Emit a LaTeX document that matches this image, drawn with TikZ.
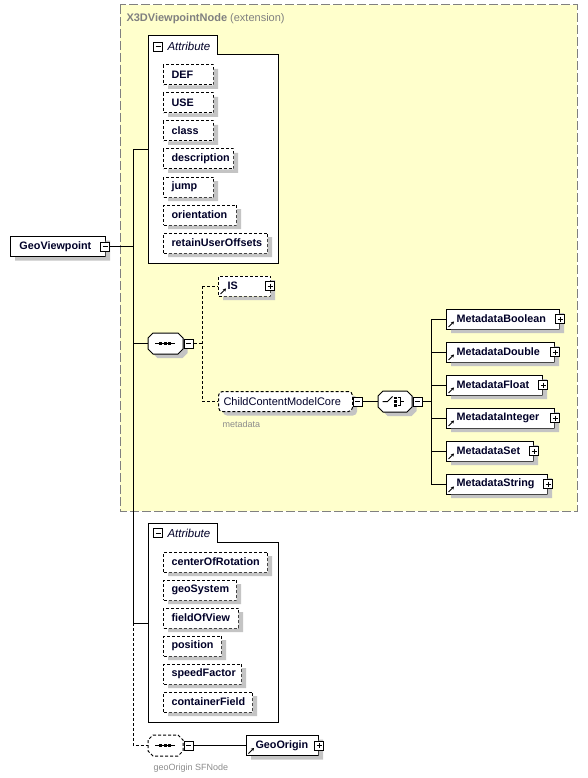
\documentclass[tikz,border=0pt]{standalone}
\usepackage{fontspec}
\setmainfont{Liberation Sans}
\usetikzlibrary{arrows.meta,calc}
\definecolor{extyellow}{RGB}{255,255,204}
\definecolor{bordergray}{RGB}{128,128,128}
\definecolor{labgray}{RGB}{140,140,140}
\definecolor{txt}{RGB}{0,0,40}
\colorlet{shcol}{black!23}
\newcommand{\wbox}[3]{\makebox[#1pt][l]{\hspace{#2pt}#3}}
% L-shaped shadow strip of a box: left x, centre y, width (drawn after the box)
\newcommand{\shbox}[3]{\path[fill=shcol] (#1+#3+0.5,#2-6) -- (#1+#3+5,#2-6) -- (#1+#3+5,#2+14) -- (#1+5,#2+14) -- (#1+5,#2+10.5) -- (#1+#3+0.5,#2+10.5) -- cycle;}
% octagon outline: left x, centre y, width
\newcommand{\octat}[3]{(#1+5,#2-10.5) -- (#1+#3-5,#2-10.5) -- (#1+#3,#2-5.5) -- (#1+#3,#2+5.5) -- (#1+#3-5,#2+10.5) -- (#1+5,#2+10.5) -- (#1,#2+5.5) -- (#1,#2-5.5) -- cycle}
\tikzset{
  cdash/.style={line width=1pt, dash pattern=on 3pt off 2pt},
  bfont/.style={font=\fontsize{10.8}{12}\selectfont\bfseries},
  rfont/.style={font=\fontsize{11}{12}\selectfont},
  attrbox/.style={draw, fill=white, line width=1pt, dash pattern=on 3pt off 2pt, bfont, inner sep=0pt, minimum height=20pt, anchor=west, text=txt},
  gbox/.style={draw, fill=white, line width=1pt, bfont, inner sep=0pt, minimum height=20pt, anchor=west, text=txt},
  elem/.style={gbox, path picture={\draw[solid, line width=0.8pt, -{Stealth[length=3pt,width=3.5pt]}] ([shift={(2pt,2pt)}]path picture bounding box.south west) -- ([shift={(7.5pt,7.5pt)}]path picture bounding box.south west);}},
  pmbox/.style={draw, solid, fill=white, line width=0.8pt, minimum size=9pt, inner sep=0pt},
  minus/.style={pmbox, path picture={\draw[line width=0.8pt] ([xshift=2pt]path picture bounding box.west) -- ([xshift=-2pt]path picture bounding box.east);}},
  plus/.style={pmbox, path picture={\draw[line width=0.8pt] ([xshift=2pt]path picture bounding box.west) -- ([xshift=-2pt]path picture bounding box.east) ([yshift=-2pt]path picture bounding box.north) -- ([yshift=2pt]path picture bounding box.south);}},
  oct/.style={rectangle, minimum width=35pt, minimum height=21pt, inner sep=0pt, anchor=west},
  octline/.style={draw, fill=white, line width=1pt},
  glab/.style={font=\fontsize{9}{10}\selectfont, text=labgray, inner sep=0pt, anchor=west},
  tabtitle/.style={anchor=west, inner sep=0pt, font=\fontsize{11.5}{12}\selectfont\itshape, text=txt},
}
\begin{document}
\begin{tikzpicture}[x=1pt, y=-1pt, line width=1pt]
\useasboundingbox (0,0) rectangle (588,778);
% extension area
\draw[bordergray, dash pattern=on 9pt off 3pt, fill=extyellow] (120,5) rectangle (577,511);
\node[anchor=base west, inner sep=0pt, text=bordergray, font=\fontsize{11}{12}\selectfont] (exttitle) at (126,22) {\textbf{X3DViewpointNode} (extension)};
% attribute group panels
\draw[fill=white] (148,263) -- (148,36) -- (217,36) -- (217,55) -- (278,55) -- (278,263) -- cycle;
\draw[fill=white] (148,722) -- (148,523) -- (217,523) -- (217,542) -- (278,542) -- (278,722) -- cycle;

% attribute group 1
\node[minus] (a1m) at (158,46.5) {};
\node[tabtitle] (a1t) at (167,46) {Attribute};
\node[attrbox] (def) at (163,75) {\wbox{50}{8}{DEF}};                \shbox{163}{75}{50}
\node[attrbox] (use) at (163,103) {\wbox{50}{8}{USE}};               \shbox{163}{103}{50}
\node[attrbox] (class) at (163,131) {\wbox{50}{8}{class}};           \shbox{163}{131}{50}
\node[attrbox] (desc) at (163,159) {\wbox{70}{8}{description}};      \shbox{163}{159}{70}
\node[attrbox] (jump) at (163,187) {\wbox{50}{8}{jump}};             \shbox{163}{187}{50}
\node[attrbox] (orient) at (163,215) {\wbox{73}{8}{orientation}};    \shbox{163}{215}{73}
\node[attrbox] (retain) at (163,243) {\wbox{104}{8}{retainUserOffsets}}; \shbox{163}{243}{104}
\coordinate (a1c) at (148,150);

% attribute group 2
\node[minus] (a2m) at (158,533) {};
\node[tabtitle] (a2t) at (167,533) {Attribute};
\node[attrbox] (cor) at (163,562) {\wbox{104}{8}{centerOfRotation}}; \shbox{163}{562}{104}
\node[attrbox] (geosys) at (163,590) {\wbox{73}{8}{geoSystem}};      \shbox{163}{590}{73}
\node[attrbox] (fov) at (163,618) {\wbox{75}{8}{fieldOfView}};       \shbox{163}{618}{75}
\node[attrbox] (pos) at (163,646) {\wbox{58}{8}{position}};          \shbox{163}{646}{58}
\node[attrbox] (speed) at (163,674) {\wbox{78}{8}{speedFactor}};     \shbox{163}{674}{78}
\node[attrbox] (cfield) at (163,702) {\wbox{89}{8}{containerField}}; \shbox{163}{702}{89}
\coordinate (a2c) at (148,623);

% root element
\node[gbox] (gv) at (10,246.5) {\wbox{95}{9}{GeoViewpoint}};
\shbox{10}{246.5}{95}
\node[minus] (gvm) at ([xshift=-1pt]gv.east) {};

% main trunk
\coordinate (j0) at (133,246.5);
\coordinate (jtop) at (133,150);
\coordinate (jbot) at (133,623);
\coordinate (js1) at (133,343.5);
\coordinate (jgo) at (133,745.5);
\draw (gvm.east) -- (j0);
\draw (jtop) -- (jbot);
\draw (jtop) -- (a1c);
\draw (jbot) -- (a2c);

% sequence 1
\path[fill=shcol] \octat{152.5}{347.5}{35};
\node[oct] (s1) at (148,343.5) {};
\draw[octline] \octat{148}{343.5}{35};
\node[minus, anchor=west] (s1m) at (s1.east) {};
\begin{scope}[shift={(s1.center)}]
  \draw[line width=1pt] (-11,0) -- (9,0);
  \fill (-7,-1.5) rectangle ++(3,3);
  \fill (-2.5,-1.5) rectangle ++(3,3);
  \fill (2,-1.5) rectangle ++(3,3);
\end{scope}
\draw (js1) -- (s1.west);

% IS and ChildContentModelCore
\node[elem, dash pattern=on 3pt off 2pt] (is) at (218,286) {\wbox{52}{9}{IS}};
\shbox{218}{286}{52}
\node[plus] (ism) at ([xshift=-1pt]is.east) {};
\path[fill=shcol, rounded corners=4pt] (223,395.5) rectangle (357,415.5);
\node[draw, fill=white, line width=1pt, dash pattern=on 3pt off 2pt, rounded corners=4pt, rfont, text=txt, inner sep=0pt, minimum height=20pt, anchor=west] (ccmc) at (218,401.5) {\wbox{134}{5}{ChildContentModelCore}};
\node[minus, anchor=west] (ccmcm) at (ccmc.east) {};
\node[glab] (mdl) at (222,424) {metadata};
\coordinate (d1) at (202,343.5);
\draw[cdash] (s1m.east) -- (d1);
\draw[cdash] (d1 |- is.west) -- (d1 |- ccmc.west);
\draw[cdash] (d1 |- is.west) -- (is.west);
\draw[cdash] (d1 |- ccmc.west) -- (ccmc.west);

% choice
\path[fill=shcol] \octat{382.5}{405.5}{34};
\node[oct, minimum width=34pt] (ch) at (378,401.5) {};
\draw[octline] \octat{378}{401.5}{34};
\node[minus, anchor=west] (chm) at (ch.east) {};
\begin{scope}[shift={(ch.center)}]
  \draw[line width=1pt] (-13,0) -- (-8,0) -- (-3,-5);
  \fill (-1.5,-5) rectangle ++(2.5,2.5);
  \fill (-1.5,-1.25) rectangle ++(2.5,2.5);
  \fill (-1.5,2.5) rectangle ++(2.5,2.5);
  \draw[line width=1pt] (2,-4) -- (5,-4) -- (5,4) -- (2,4) (5,0) -- (8,0);
\end{scope}
\draw (ccmcm.east) -- (ch.west);
\coordinate (cj) at (431,401.5);
\draw (chm.east) -- (cj);

\node[elem] (mb) at (446,319) {\wbox{113}{10}{MetadataBoolean}}; \shbox{446}{319}{113}
\node[elem] (md) at (446,352) {\wbox{108}{10}{MetadataDouble}};  \shbox{446}{352}{108}
\node[elem] (mf) at (446,385) {\wbox{96}{10}{MetadataFloat}};    \shbox{446}{385}{96}
\node[elem] (mi) at (446,418) {\wbox{108}{10}{MetadataInteger}}; \shbox{446}{418}{108}
\node[elem] (ms) at (446,451) {\wbox{87}{10}{MetadataSet}};      \shbox{446}{451}{87}
\node[elem] (mst) at (446,484) {\wbox{101}{10}{MetadataString}}; \shbox{446}{484}{101}
\foreach \m in {mb,md,mf,mi,ms,mst} {\node[plus] (\m p) at (\m.east) {};}
\draw (cj |- mb.west) -- (cj |- mst.west);
\foreach \m in {mb,md,mf,mi,ms,mst} { \draw (cj |- \m.west) -- (\m.west); }

% geoOrigin
\node[oct] (s2) at (148,745.5) {};
\draw[octline, dash pattern=on 3pt off 2pt] \octat{148}{745.5}{35};
\node[minus, anchor=west] (s2m) at (s2.east) {};
\begin{scope}[shift={(s2.center)}]
  \draw[line width=1pt] (-11,0) -- (9,0);
  \fill (-7,-1.5) rectangle ++(3,3);
  \fill (-2.5,-1.5) rectangle ++(3,3);
  \fill (2,-1.5) rectangle ++(3,3);
\end{scope}
\draw[cdash] (jbot) -- (jgo) -- (s2.west);
\node[elem] (go) at (246,745.5) {\wbox{72}{9}{GeoOrigin}};
\shbox{246}{745.5}{72}
\node[plus] (gop) at (go.east) {};
\draw (s2m.east) -- (go.west);
\node[glab] (gol) at (153,768) {geoOrigin SFNode};
\end{tikzpicture}
\end{document}
